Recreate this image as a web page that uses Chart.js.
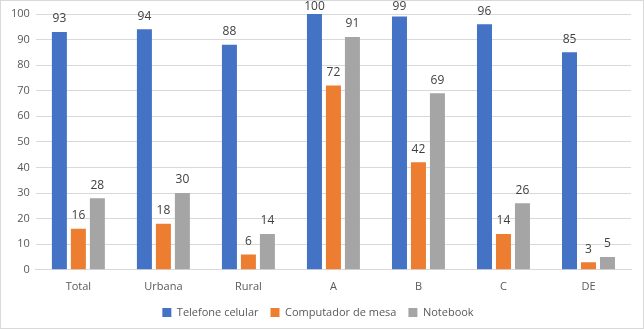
<!DOCTYPE html>
<html>
<head>
<meta charset="utf-8">
<script src="https://cdn.jsdelivr.net/npm/chart.js@4"></script>
<style>
  html, body { margin: 0; padding: 0; background: #fff; }
  #wrap { position: absolute; left: 0; top: 0; width: 642px; height: 327px; border: 1px solid #d9d9d9; }
</style>
</head>
<body>
<div id="wrap"><canvas id="chart"></canvas></div>
<script>
const categories = ["Total", "Urbana", "Rural", "A", "B", "C", "DE"];
const celular = [93, 94, 88, 100, 99, 96, 85];
const computador = [16, 18, 6, 72, 42, 14, 3];
const notebook = [28, 30, 14, 91, 69, 26, 5];

// rótulos de valor acima das barras
const valueLabels = {
    id: "valueLabels",
    afterDatasetsDraw(chart) {
        const ctx = chart.ctx;
        ctx.save();
        ctx.font = "12px 'Open Sans', sans-serif";
        ctx.fillStyle = "#404040";
        ctx.textAlign = "center";
        ctx.textBaseline = "bottom";
        chart.data.datasets.forEach((ds, i) => {
            chart.getDatasetMeta(i).data.forEach((bar, j) => {
                ctx.fillText(ds.data[j], bar.x, Math.max(bar.y - 7, 12));
            });
        });
        ctx.restore();
    }
};

new Chart(document.getElementById("chart"), {
    type: "bar",
    data: {
        labels: categories,
        datasets: [
            { label: "Telefone celular", data: celular, backgroundColor: "#4472c4" },
            { label: "Computador de mesa", data: computador, backgroundColor: "#ed7d31" },
            { label: "Notebook", data: notebook, backgroundColor: "#a5a5a5" }
        ]
    },
    options: {
        responsive: true,
        maintainAspectRatio: false,
        animation: false,
        categoryPercentage: 0.67,
        barPercentage: 0.79,
        layout: { padding: { left: 4, right: 12, top: 13, bottom: 0 } },
        scales: {
            y: {
                min: 0,
                max: 100,
                ticks: { stepSize: 10, color: "#595959", font: { family: "'Open Sans', sans-serif", size: 11 }, padding: 6 },
                grid: { color: "#d9d9d9", drawTicks: false },
                border: { display: false }
            },
            x: {
                ticks: { color: "#595959", font: { family: "'Open Sans', sans-serif", size: 11 }, padding: 2 },
                grid: { display: false },
                border: { color: "#d9d9d9" }
            }
        },
        plugins: {
            legend: {
                position: "bottom",
                labels: {
                    boxWidth: 9,
                    boxHeight: 9,
                    padding: 12,
                    color: "#595959",
                    font: { family: "'Open Sans', sans-serif", size: 11 }
                }
            },
            tooltip: { enabled: false }
        }
    },
    plugins: [valueLabels]
});
</script>
</body>
</html>
